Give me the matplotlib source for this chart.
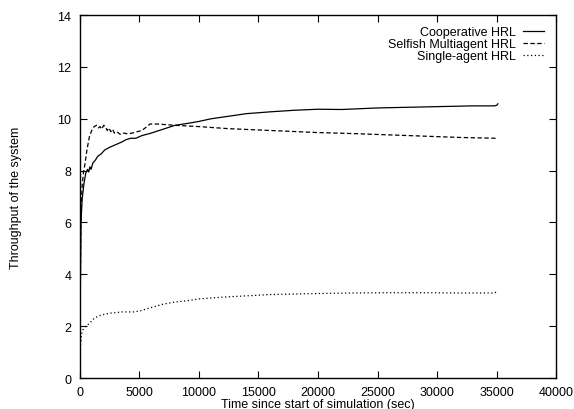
import matplotlib
matplotlib.use("Agg")
import matplotlib.pyplot as plt

plt.rcParams['font.family'] = ['Liberation Sans', 'DejaVu Sans']

# Cooperative HRL
coop_t = [0, 50, 100, 200, 350, 500, 650, 750, 850, 950, 1100, 1300, 1500, 1800, 2100,
          2500, 3000, 3500, 3900, 4300, 4700, 5200, 6000, 7000, 8000, 9000, 10000, 11000,
          12500, 14000, 16000, 18000, 20000, 22000, 25000, 28000, 31000, 33000, 34800,
          35000, 35100]
coop_y = [0.7, 3.5, 6.0, 6.9, 7.5, 7.9, 8.05, 7.95, 8.15, 8.05, 8.3, 8.4, 8.55, 8.65, 8.8,
          8.9, 9.0, 9.1, 9.2, 9.25, 9.25, 9.35, 9.45, 9.6, 9.75, 9.82, 9.9, 10.0,
          10.1, 10.2, 10.27, 10.33, 10.37, 10.36, 10.42, 10.45, 10.48, 10.5, 10.5,
          10.52, 10.58]

# Selfish Multiagent HRL
self_t = [0, 50, 100, 200, 300, 450, 600, 800, 1000, 1200, 1400, 1550, 1700, 1850, 2000,
          2150, 2300, 2450, 2600, 2750, 2900, 3100, 3400, 3700, 4000, 4400, 4800, 5200,
          5500, 5900, 6500, 8000, 10000, 12500, 15000, 17500, 20000, 23000, 26000, 29000,
          32000, 35000]
self_y = [0.7, 4.0, 6.5, 7.4, 7.9, 8.3, 8.8, 9.3, 9.55, 9.7, 9.75, 9.65, 9.7, 9.6, 9.75,
          9.7, 9.55, 9.65, 9.5, 9.6, 9.45, 9.5, 9.4, 9.45, 9.42, 9.45, 9.5, 9.55,
          9.65, 9.8, 9.8, 9.75, 9.7, 9.62, 9.57, 9.52, 9.47, 9.43, 9.38, 9.33,
          9.28, 9.25]

# Single-agent HRL
single_t = [0, 50, 150, 300, 500, 800, 1200, 1600, 2000, 2500, 3000, 3500, 4000, 4500,
            5000, 5500, 6000, 7000, 8000, 9000, 10000, 12000, 14000, 16000, 18000, 20000,
            23000, 26000, 29000, 32000, 34800, 35100]
single_y = [0.7, 1.2, 1.7, 1.9, 2.0, 2.1, 2.3, 2.4, 2.45, 2.5, 2.52, 2.55, 2.55, 2.55,
            2.58, 2.65, 2.72, 2.85, 2.93, 2.98, 3.05, 3.12, 3.17, 3.22, 3.24, 3.26,
            3.28, 3.29, 3.29, 3.28, 3.28, 3.35]

xticks = list(range(0, 40001, 5000))
yticks = list(range(0, 15, 2))

fig = plt.figure(figsize=(5.74, 4.10), dpi=100)
ax = fig.add_axes([0.139, 0.0756, 0.830, 0.885])

ax.plot(coop_t, coop_y, color='black', lw=0.9, ls='-', label='Cooperative HRL')
ax.plot(self_t, self_y, color='black', lw=0.9, ls=(0, (3.5, 2)), label='Selfish Multiagent HRL')
ax.plot(single_t, single_y, color='black', lw=0.9, ls=(0, (1, 2)), label='Single-agent HRL')

ax.set_xlim(0, 40000)
ax.set_ylim(0, 14)
ax.set_xticks(xticks)
ax.set_yticks(yticks)
ax.tick_params(direction='in', top=True, right=True, length=5, width=0.8,
               labelsize=9, pad=6)
for s in ax.spines.values():
    s.set_linewidth(1.0)

ax.set_xlabel('Time since start of simulation (sec)', fontsize=9, labelpad=0)
fig.text(16 / 574, 0.518, 'Throughput of the system', fontsize=9,
         rotation=90, ha='center', va='center')

ax.legend(loc='upper right', frameon=False, fontsize=9, markerfirst=False,
          handlelength=1.7, handletextpad=0.6, labelspacing=0.0,
          borderpad=0, borderaxespad=0, bbox_to_anchor=(0.975, 0.97))

fig.savefig('out.png', dpi=100)
